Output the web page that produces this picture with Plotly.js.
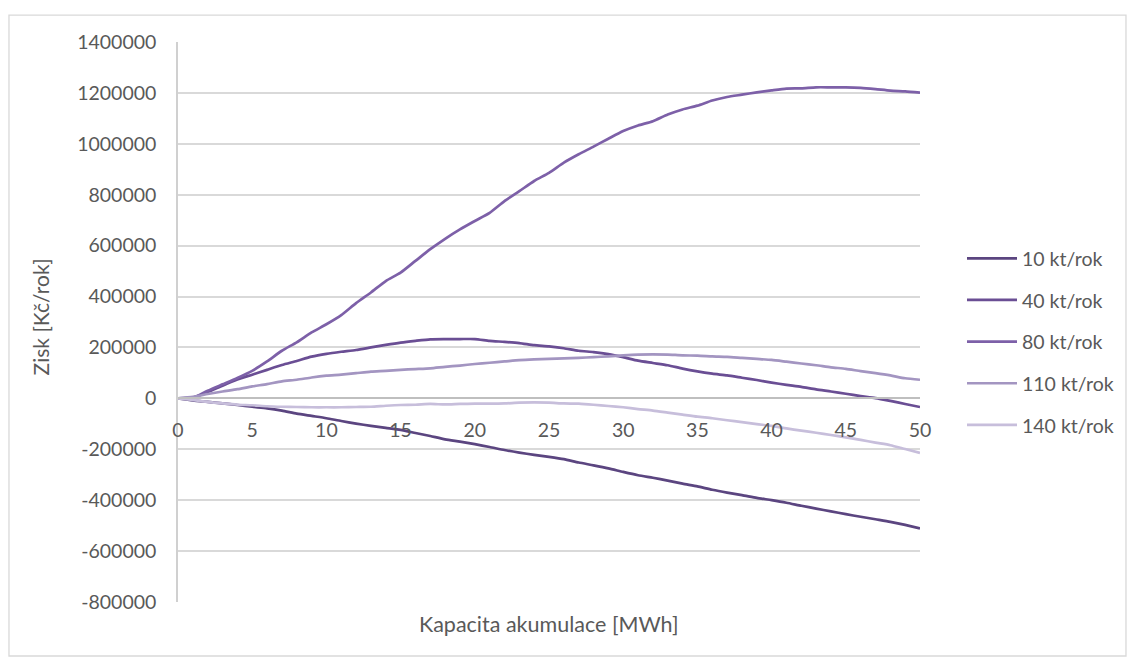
<!DOCTYPE html>
<html>
<head>
<meta charset="utf-8">
<script src="https://cdn.plot.ly/plotly-3.0.1.min.js"></script>
<style>html,body{margin:0;padding:0;background:#fff;}#chart{width:1129px;height:658px;}</style>
</head>
<body>
<div id="chart"></div>
<script>
const capacity = [0,1,2,3,4,5,6,7,8,9,10,11,12,13,14,15,16,17,18,19,20,21,22,23,24,25,26,27,28,29,30,31,32,33,34,35,36,37,38,39,40,41,42,43,44,45,46,47,48,49,50];

const profit10 = [0,-8000,-14000,-20000,-26000,-33000,-39000,-48000,-60000,-69000,-78000,-89000,-99000,-108000,-116000,-124000,-136000,-148000,-161000,-170000,-180000,-191000,-203000,-213000,-222000,-230000,-239000,-252000,-263000,-275000,-289000,-302000,-312000,-323000,-335000,-346000,-359000,-370000,-380000,-391000,-400000,-410000,-422000,-433000,-444000,-455000,-465000,-475000,-485000,-497000,-511000];

const profit40 = [0,4000,24000,50000,74000,93000,112000,131000,147000,164000,175000,183000,190000,200000,210000,219000,226000,232000,233000,233000,233000,226000,222000,217000,209000,204000,197000,187000,182000,174000,162000,148000,139000,130000,117000,106000,97000,90000,81000,72000,62000,53000,45000,35000,27000,18000,9000,1000,-10000,-22000,-34000];

const profit80 = [0,2000,30000,55000,80000,108000,145000,187000,220000,259000,291000,327000,374000,416000,461000,494000,540000,586000,627000,664000,697000,729000,775000,814000,854000,886000,926000,959000,989000,1020000,1050000,1072000,1089000,1115000,1135000,1150000,1170000,1184000,1193000,1202000,1210000,1217000,1218000,1222000,1222000,1222000,1220000,1215000,1209000,1206000,1201000];

const profit110 = [0,6000,17000,27000,36000,47000,56000,67000,73000,82000,89000,93000,99000,105000,108000,112000,115000,118000,124000,129000,135000,140000,145000,150000,153000,155000,157000,159000,162000,165000,169000,172000,173000,172000,169000,168000,165000,163000,159000,155000,151000,144000,137000,130000,122000,116000,107000,99000,90000,79000,73000];

const profit140 = [0,-6000,-14000,-20000,-25000,-27000,-31000,-33000,-34000,-35000,-35000,-35000,-34000,-33000,-29000,-26000,-25000,-22000,-24000,-22000,-21000,-21000,-20000,-17000,-16000,-17000,-20000,-21000,-25000,-30000,-35000,-42000,-48000,-56000,-64000,-72000,-78000,-86000,-93000,-101000,-108000,-118000,-127000,-135000,-144000,-153000,-163000,-174000,-184000,-199000,-214000];

const seriesNames = ["10 kt/rok","40 kt/rok","80 kt/rok","110 kt/rok","140 kt/rok"];
const seriesValues = [profit10, profit40, profit80, profit110, profit140];
const seriesColors = ["#5b4580","#6a4e94","#7d60a8","#a395c1","#c7bedb"];

const yTickVals = [-800000,-600000,-400000,-200000,0,200000,400000,600000,800000,1000000,1200000,1400000];
const yTickText = ["-800000","-600000","-400000","-200000","0","200000","400000","600000","800000","1000000","1200000","1400000"];
const xTickVals = [0,5,10,15,20,25,30,35,40,45,50];

const xTitle = "Kapacita akumulace [MWh]";
const yTitle = "Zisk [Kč/rok]";

const FONT = "Lato, 'Open Sans', sans-serif";
const TXT = "#595959";

const traces = seriesNames.map((n, i) => ({
  type: "scatter",
  mode: "lines",
  name: n,
  x: capacity,
  y: seriesValues[i],
  legendgroup: "g" + i,
  line: {color: seriesColors[i], width: 2.7, shape: "spline", smoothing: 0.6},
  hoverinfo: "x+y+name"
}));

const yMin = -800000, yMax = 1400000;

const layout = {
  width: 1129,
  height: 658,
  margin: {l: 178, r: 209, t: 42, b: 56, autoexpand: false},
  paper_bgcolor: "#ffffff",
  plot_bgcolor: "#ffffff",
  font: {family: FONT, color: TXT, size: 19.5},
  showlegend: true,
  legend: {
    x: 1.0566, xanchor: "left",
    y: 0.648, yanchor: "top",
    traceorder: "grouped",
    tracegroupgap: 13.3,
    itemwidth: 50,
    font: {family: FONT, size: 19.5, color: TXT},
    bgcolor: "rgba(0,0,0,0)"
  },
  xaxis: {
    range: [0, 50],
    tickvals: xTickVals,
    showgrid: false,
    zeroline: false,
    showline: true,
    linecolor: "#bfbfbf",
    linewidth: 1.5,
    ticks: "",
    ticklabelstandoff: 14,
    anchor: "free",
    position: (0 - yMin) / (yMax - yMin),
    tickfont: {family: FONT, size: 19.5, color: TXT},
    fixedrange: true
  },
  yaxis: {
    range: [yMin, yMax],
    tickvals: yTickVals,
    ticktext: yTickText,
    showgrid: true,
    gridcolor: "#d9d9d9",
    gridwidth: 1.5,
    zeroline: false,
    showline: true,
    linecolor: "#d0d0d0",
    linewidth: 1.5,
    ticks: "",
    ticklabelstandoff: 16,
    tickfont: {family: FONT, size: 19.5, color: TXT},
    fixedrange: true
  },
  annotations: [
    {text: xTitle, xref: "paper", yref: "paper", x: 0.5, y: -0.013, xanchor: "center", yanchor: "top", showarrow: false, font: {family: FONT, size: 21.5, color: TXT}},
    {text: yTitle, xref: "paper", yref: "paper", x: -0.186, y: 0.51, xanchor: "center", yanchor: "middle", textangle: -90, showarrow: false, font: {family: FONT, size: 21, color: TXT}}
  ],
  shapes: [
    {type: "rect", xref: "paper", yref: "paper", x0: -0.2278, x1: 1.2776, y0: -0.0964, y1: 1.048, line: {color: "#d9d9d9", width: 1.3}, fillcolor: "rgba(0,0,0,0)", layer: "below"}
  ]
};

Plotly.newPlot("chart", traces, layout, {displayModeBar: false});
</script>
</body>
</html>
